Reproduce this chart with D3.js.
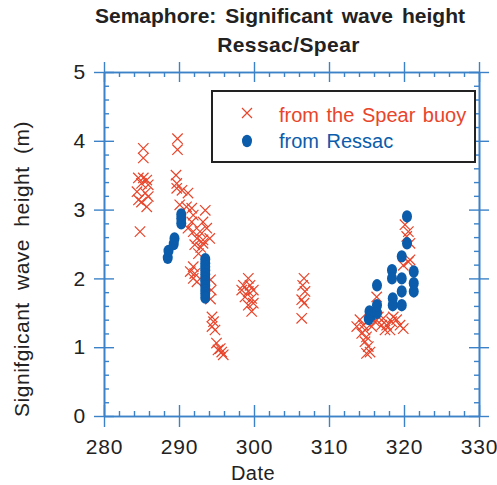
<!DOCTYPE html>
<html><head><meta charset="utf-8">
<script src="https://cdn.jsdelivr.net/npm/d3@7"></script>
<style>body{margin:0;background:#fff}svg{display:block}text{font-family:"Liberation Sans",Arial,sans-serif}</style>
</head><body>
<svg id="c" width="497" height="485"></svg>
<script>
const spearDay = [285.24,285.24,284.58,285.24,285.7,285.0,285.9,284.4,285.5,285.9,284.6,285.0,285.7,284.8,
 289.8,289.8,289.6,289.7,289.7,290.4,291.2,290.1,291.0,291.7,293.5,291.9,291.7,293.2,291.2,291.9,292.8,293.7,292.4,293.2,294.1,292.1,292.9,293.2,292.6,291.9,291.5,292.1,291.9,292.4,294.2,294.3,294.2,294.4,294.6,294.4,294.8,295.0,295.2,295.5,295.7,295.9,
 299.24,298.58,299.47,298.36,299.24,299.91,298.8,299.69,299.91,299.24,299.69,
 306.67,306.49,306.8,306.36,306.67,306.36,
 313.7,314.13,314.58,314.8,314.36,315.0,314.8,315.24,315.0,315.47,315.69,316.13,316.57,316.36,317.02,317.24,317.47,317.69,318.13,318.36,318.57,319.02,319.47,319.9,319.9,320.58,320.8,320.13,320.58,320.36,320.8];
const spearHs = [3.89,3.75,3.46,3.46,3.43,3.38,3.36,3.26,3.24,3.19,3.14,3.11,3.04,2.68,
 4.03,3.87,3.5,3.38,3.31,3.28,3.24,3.07,3.04,3.02,2.99,2.92,2.82,2.82,2.73,2.68,2.68,2.73,2.58,2.56,2.58,2.49,2.45,2.51,2.36,2.17,2.1,2.07,2.0,1.95,1.98,1.83,1.7,1.44,1.37,1.3,1.25,1.06,0.96,0.98,0.93,0.89,
 2.0,1.9,1.9,1.83,1.81,1.83,1.73,1.71,1.64,1.61,1.52,
 2.0,1.9,1.81,1.69,1.64,1.42,
 1.3,1.40,1.32,1.25,1.2,1.15,1.08,1.01,0.91,0.93,1.30,1.37,1.44,1.73,1.32,1.42,1.25,1.32,1.25,1.37,1.44,1.40,1.32,1.27,2.19,2.24,2.27,2.78,2.68,2.61,2.51];
const ressacDay = [288.5,288.6,289.3,289.4,290.3,290.3,290.3,
 293.5,293.5,293.5,293.5,293.5,293.5,293.5,293.5,293.5,293.5,293.5,
 315.3,315.4,315.7,316.4,316.4,316.4,318.4,318.4,318.5,318.5,319.7,319.7,319.7,319.7,320.4,320.4,321.3,321.3,321.3];
const ressacHs = [2.3,2.4,2.5,2.58,2.8,2.87,2.93,
 2.28,2.22,2.17,2.12,2.06,2.0,1.95,1.89,1.83,1.78,1.72,
 1.41,1.52,1.47,1.5,1.61,1.9,2.12,2.0,1.71,1.61,2.32,2.0,1.81,1.61,2.51,2.9,2.1,1.93,1.81];
const xMajor = [280,290,300,310,320,330];
const xMinor = [282,284,286,288,292,294,296,298,302,304,306,308,312,314,316,318,322,324,326,328];
const yMajor = [0,1,2,3,4,5];
const yMinor = [0.2,0.4,0.6,0.8,1.2,1.4,1.6,1.8,2.2,2.4,2.6,2.8,3.2,3.4,3.6,3.8,4.2,4.4,4.6,4.8];
const titleLines = ["Semaphore: Significant wave height","Ressac/Spear"];
const legendLabels = ["from the Spear buoy","from Ressac"];

const RED = "#e8452b", BLUE = "#0b5cab", AX = "#3c82c8", TXT = "#222";
const svg = d3.select("#c");
const L=104,R=479,T=72,B=416;
const x = d3.scaleLinear().domain([280,330]).range([L,R]);
const y = d3.scaleLinear().domain([0,5]).range([B,T]);

function style(g){ g.selectAll("path.domain").attr("stroke",AX).attr("stroke-width",1.6);
  g.selectAll("line").attr("stroke",AX).attr("stroke-width",1.4);
  g.selectAll("text").attr("fill",TXT).style("font-size","21px").style("letter-spacing","0.8px").style("font-family","'Liberation Sans',Arial,sans-serif"); }

// bottom
let g = svg.append("g").attr("transform",`translate(0,${B})`)
  .call(d3.axisBottom(x).tickValues(xMajor).tickSize(11).tickSizeOuter(0).tickPadding(12).tickFormat(d3.format("d")));
g.selectAll(".tick line").attr("y1",-11); style(g);
g = svg.append("g").attr("transform",`translate(0,${B})`).call(d3.axisBottom(x).tickValues(xMinor).tickSize(-5).tickSizeOuter(0).tickFormat("")); style(g);
// top
g = svg.append("g").attr("transform",`translate(0,${T})`).call(d3.axisTop(x).tickValues(xMajor).tickSize(10).tickSizeOuter(0).tickFormat(""));
g.selectAll(".tick line").attr("y1",10); style(g);
g = svg.append("g").attr("transform",`translate(0,${T})`).call(d3.axisTop(x).tickValues(xMinor).tickSize(-5).tickSizeOuter(0).tickFormat("")); style(g);
// left
g = svg.append("g").attr("transform",`translate(${L},0)`).call(d3.axisLeft(y).tickValues(yMajor).tickSize(10).tickSizeOuter(0).tickPadding(8).tickFormat(d3.format("d")));
g.selectAll(".tick line").attr("x1",10); style(g);
g = svg.append("g").attr("transform",`translate(${L},0)`).call(d3.axisLeft(y).tickValues(yMinor).tickSize(-5).tickSizeOuter(0).tickFormat("")); style(g);
// right
g = svg.append("g").attr("transform",`translate(${R},0)`).call(d3.axisRight(y).tickValues(yMajor).tickSize(10).tickSizeOuter(0).tickFormat(""));
g.selectAll(".tick line").attr("x1",-10); style(g);
g = svg.append("g").attr("transform",`translate(${R},0)`).call(d3.axisRight(y).tickValues(yMinor).tickSize(-5).tickSizeOuter(0).tickFormat("")); style(g);

// spear crosses
const s = 5.2;
const spear = svg.append("g").attr("stroke",RED).attr("stroke-width",1.2).attr("fill","none");
spearDay.forEach((d,i)=>{
  const cx=x(d), cy=y(spearHs[i]);
  spear.append("path").attr("d",`M${cx-s},${cy-s}L${cx+s},${cy+s}M${cx-s},${cy+s}L${cx+s},${cy-s}`);
});
// ressac dots
svg.append("g").selectAll("ellipse").data(ressacDay).join("ellipse")
  .attr("cx",d=>x(d)).attr("cy",(d,i)=>y(ressacHs[i])).attr("rx",5).attr("ry",6.2).attr("fill",BLUE);

// legend
svg.append("rect").attr("x",212).attr("y",91).attr("width",263).attr("height",71).attr("fill","#fff").attr("stroke","#222").attr("stroke-width",2);
svg.append("path").attr("d","M242,108L252,118M242,118L252,108").attr("stroke",RED).attr("stroke-width",1.2);
svg.append("ellipse").attr("cx",247).attr("cy",141).attr("rx",5).attr("ry",6.2).attr("fill",BLUE);
svg.append("text").attr("x",279).attr("y",122).attr("fill",RED).style("font-size","20px").style("word-spacing","2px").text(legendLabels[0]);
svg.append("text").attr("x",279).attr("y",148).attr("fill",BLUE).style("font-size","20px").style("word-spacing","2px").text(legendLabels[1]);

// titles
const t1 = svg.append("text").attr("x",95).attr("y",23).attr("fill",TXT).style("font-size","21px").style("font-weight","bold").text(titleLines[0]);
const w1 = t1.node().getComputedTextLength();
t1.style("word-spacing", ((370-w1)/3)+"px");
svg.append("text").attr("x",288.5).attr("y",52).attr("text-anchor","middle").attr("fill",TXT).style("font-size","21px").style("font-weight","bold").style("letter-spacing","0.4px").text(titleLines[1]);

svg.append("text").attr("x",253).attr("y",480).attr("text-anchor","middle").attr("fill",TXT).style("font-size","20px").style("letter-spacing","0.5px").text("Date");
svg.append("text").attr("transform","translate(29,269) rotate(-90)").attr("text-anchor","middle").attr("fill",TXT).style("font-size","21px").style("letter-spacing","0.5px").style("word-spacing","6px").text("Signifgicant wave height (m)");
</script>
</body></html>
